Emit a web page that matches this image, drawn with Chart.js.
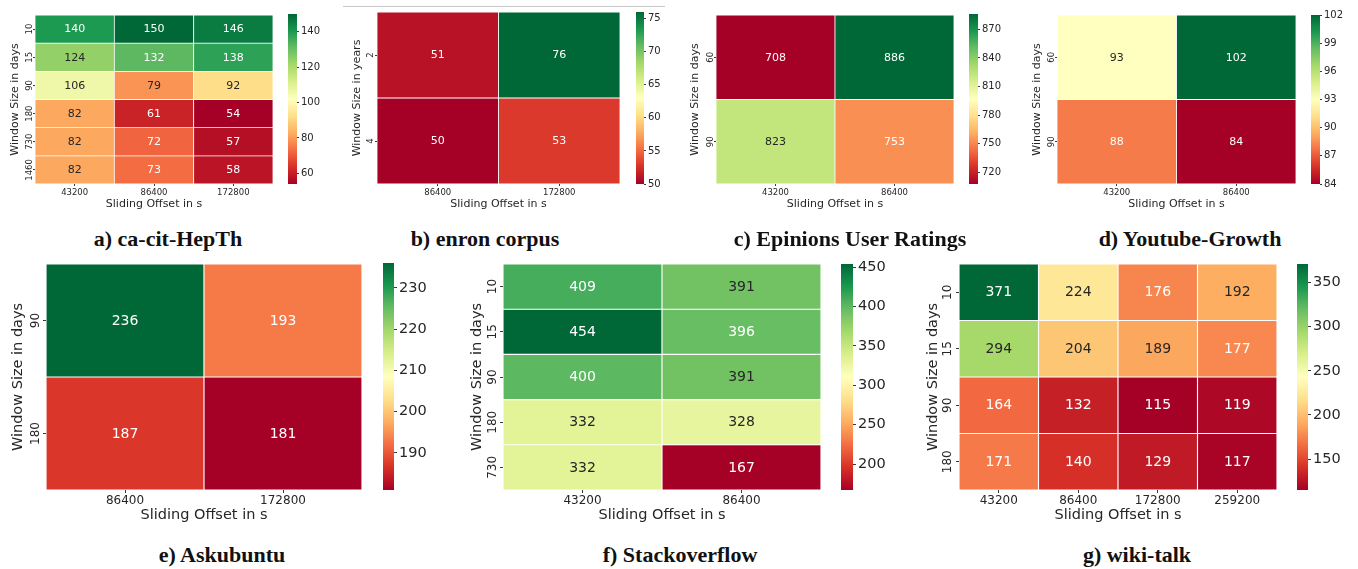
<!DOCTYPE html>
<html>
<head>
<meta charset="utf-8">
<title>Sliding window heatmaps</title>
<script src="https://cdn.jsdelivr.net/npm/chart.js@4/dist/chart.umd.min.js"></script>
<style>
  html, body { margin: 0; padding: 0; background: #fff; }
  body { position: relative; width: 1358px; height: 569px; overflow: hidden; }
  canvas { position: absolute; }
  .caption { position: absolute; transform: translate(-50%, -50%); white-space: nowrap;
             font-family: "Liberation Serif", "DejaVu Serif", serif; font-weight: bold; font-size: 22px; color: #111; }
  .rule { position: absolute; height: 1px; background: #c8c8c8; }
</style>
</head>
<body>
<script>
// ---- a) ca-cit-HepTh ----
const hepthOffsets = ['43200', '86400', '172800'];
const hepthWindows = ['10', '15', '90', '180', '730', '1460'];
const hepthValues = [
  [140, 150, 146],
  [124, 132, 138],
  [106, 79, 92],
  [82, 61, 54],
  [82, 72, 57],
  [82, 73, 58]
];
const hepthBarTicks = [60, 80, 100, 120, 140];

// ---- b) enron corpus ----
const enronOffsets = ['86400', '172800'];
const enronWindows = ['2', '4'];
const enronValues = [
  [51, 76],
  [50, 53]
];
const enronBarTicks = [50, 55, 60, 65, 70, 75];

// ---- c) Epinions User Ratings ----
const epinionsOffsets = ['43200', '86400'];
const epinionsWindows = ['60', '90'];
const epinionsValues = [
  [708, 886],
  [823, 753]
];
const epinionsBarTicks = [720, 750, 780, 810, 840, 870];

// ---- d) Youtube-Growth ----
const youtubeOffsets = ['43200', '86400'];
const youtubeWindows = ['60', '90'];
const youtubeValues = [
  [93, 102],
  [88, 84]
];
const youtubeBarTicks = [84, 87, 90, 93, 96, 99, 102];

// ---- e) Askubuntu ----
const askubuntuOffsets = ['86400', '172800'];
const askubuntuWindows = ['90', '180'];
const askubuntuValues = [
  [236, 193],
  [187, 181]
];
const askubuntuBarTicks = [190, 200, 210, 220, 230];

// ---- f) Stackoverflow ----
const stackoverflowOffsets = ['43200', '86400'];
const stackoverflowWindows = ['10', '15', '90', '180', '730'];
const stackoverflowValues = [
  [409, 391],
  [454, 396],
  [400, 391],
  [332, 328],
  [332, 167]
];
const stackoverflowBarTicks = [200, 250, 300, 350, 400, 450];

// ---- g) wiki-talk ----
const wikiOffsets = ['43200', '86400', '172800', '259200'];
const wikiWindows = ['10', '15', '90', '180'];
const wikiValues = [
  [371, 224, 176, 192],
  [294, 204, 189, 177],
  [164, 132, 115, 119],
  [171, 140, 129, 117]
];
const wikiBarTicks = [150, 200, 250, 300, 350];

const xAxisTitle = 'Sliding Offset in s';

// RdYlGn diverging palette (ColorBrewer, 11 anchors)
const RDYLGN = [
  [165, 0, 38], [215, 48, 39], [244, 109, 67], [253, 174, 97], [254, 224, 139],
  [255, 255, 191], [217, 239, 139], [166, 217, 106], [102, 189, 99], [26, 152, 80], [0, 104, 55]
];
function rdylgn(t) {
  t = Math.min(1, Math.max(0, t));
  const s = t * 10;
  const i = Math.min(9, Math.floor(s));
  const f = s - i;
  const a = RDYLGN[i], b = RDYLGN[i + 1];
  return [0, 1, 2].map(k => a[k] + (b[k] - a[k]) * f);
}
const rgbCss = c => `rgb(${c.map(v => Math.round(v)).join(',')})`;
function luminance(c) {
  const lin = c.map(v => { v /= 255; return v <= 0.03928 ? v / 12.92 : Math.pow((v + 0.055) / 1.055, 2.4); });
  return 0.2126 * lin[0] + 0.7152 * lin[1] + 0.0722 * lin[2];
}

Chart.defaults.font.family = '"DejaVu Sans", sans-serif';
Chart.defaults.color = '#262626';
Chart.defaults.animation = false;

const TEXT = '#262626';
const TICKMARK = '#3a3a3a';

function addCanvas(left, top, width, height) {
  const c = document.createElement('canvas');
  c.width = width; c.height = height;
  c.style.left = left + 'px'; c.style.top = top + 'px';
  c.style.width = width + 'px'; c.style.height = height + 'px';
  document.body.appendChild(c);
  return c;
}

function heatmap(p) {
  const { heat, big } = p;
  const fTick = big ? 12 : 8.5, fTitle = big ? 14.5 : 11, fCell = big ? 14 : 11;
  const tl = big ? 3 : 2;
  const lh = fTitle * 1.2;
  const L = Math.floor(p.yTitleX - lh / 2) - 2;
  const T = heat.y0 - 6;
  const R = heat.x1 + 4;
  const B = Math.ceil(p.xTitleY + lh / 2) + 2;
  const canvas = addCanvas(L, T, R - L, B - T);

  const flat = p.values.flat();
  const vmin = Math.min(...flat), vmax = Math.max(...flat);
  const colorOf = v => rdylgn((v - vmin) / (vmax - vmin));

  const datasets = p.windows.map((w, i) => ({
    label: w,
    data: p.offsets.map(() => 1),
    backgroundColor: p.values[i].map(v => rgbCss(colorOf(v))),
    borderColor: '#ffffff',
    borderWidth: big ? 0.9 : 0.75,
    borderSkipped: false,
    barPercentage: 1,
    categoryPercentage: 1
  }));

  const cellLabels = {
    id: 'cellLabels',
    afterDatasetsDraw(chart) {
      const ctx = chart.ctx;
      ctx.save();
      ctx.font = `${fCell}px "DejaVu Sans"`;
      ctx.textAlign = 'center';
      ctx.textBaseline = 'middle';
      chart.data.datasets.forEach((ds, i) => {
        chart.getDatasetMeta(i).data.forEach((bar, j) => {
          const { x, y, base } = bar.getProps(['x', 'y', 'base'], true);
          const v = p.values[i][j];
          ctx.fillStyle = luminance(colorOf(v)) > 0.408 ? TEXT : '#ffffff';
          ctx.fillText(String(v), x, (y + base) / 2 + 0.5);
        });
      });
      // row labels, rotated like the axis title
      const ys = chart.scales.y;
      ctx.font = `${fTick}px "DejaVu Sans"`;
      ctx.fillStyle = TEXT;
      p.windows.forEach((w, i) => {
        ctx.save();
        ctx.translate(chart.chartArea.left - p.yTickOff, ys.getPixelForValue(i + 0.5));
        ctx.rotate(-Math.PI / 2);
        ctx.fillText(w, 0, 0);
        ctx.restore();
      });
      ctx.restore();
    }
  };

  new Chart(canvas, {
    type: 'bar',
    data: { labels: p.offsets, datasets },
    options: {
      responsive: false,
      devicePixelRatio: 1,
      layout: { padding: { top: 6, right: 4, left: 0, bottom: 0 } },
      plugins: { legend: { display: false }, tooltip: { enabled: false } },
      scales: {
        x: {
          type: 'category',
          stacked: true,
          offset: true,
          grid: { display: true, offset: false, drawOnChartArea: false, drawTicks: true, tickLength: tl, color: TICKMARK, lineWidth: 1 },
          border: { display: false },
          ticks: { font: { size: fTick }, color: TEXT, padding: big ? 1 : 2, maxRotation: 0, autoSkip: false },
          title: { display: true, text: xAxisTitle, color: TEXT, font: { size: fTitle },
                   padding: { top: 0, bottom: B - (p.xTitleY + lh / 2) } },
          afterFit: s => { s.height = B - heat.y1; }
        },
        y: {
          type: 'linear',
          stacked: true,
          reverse: true,
          min: 0,
          max: p.windows.length,
          afterBuildTicks: s => { s.ticks = p.windows.map((_, i) => ({ value: i + 0.5 })); },
          grid: { display: true, drawOnChartArea: false, drawTicks: true, tickLength: tl, color: TICKMARK, lineWidth: 1 },
          border: { display: false },
          ticks: { display: false },
          title: { display: true, text: p.yTitle, color: TEXT, font: { size: fTitle },
                   padding: { top: p.yTitleX - lh / 2 - L, bottom: 0 } },
          afterFit: s => { s.width = heat.x0 - L; }
        }
      }
    },
    plugins: [cellLabels]
  });

  colorbar(p, vmin, vmax);
}

function colorbar(p, vmin, vmax) {
  const { bar, big } = p;
  const pad = 11;
  const bw = bar.x1 - bar.x0;
  const W = bw + 44;
  const canvas = addCanvas(bar.x0, bar.y0 - pad, W, bar.y1 - bar.y0 + 2 * pad);
  new Chart(canvas, {
    type: 'bar',
    data: {
      labels: [''],
      datasets: [{
        data: [[vmin, vmax]],
        barPercentage: 1,
        categoryPercentage: 1,
        borderWidth: 0,
        backgroundColor: ctx => {
          const chart = ctx.chart;
          const ys = chart.scales.y;
          if (!ys || !chart.chartArea) return '#ccc';
          const g = chart.ctx.createLinearGradient(0, ys.getPixelForValue(vmin), 0, ys.getPixelForValue(vmax));
          RDYLGN.forEach((c, k) => g.addColorStop(k / 10, rgbCss(c)));
          return g;
        }
      }]
    },
    options: {
      responsive: false,
      devicePixelRatio: 1,
      layout: { padding: { top: pad, bottom: pad, left: 0, right: 0 } },
      plugins: { legend: { display: false }, tooltip: { enabled: false } },
      scales: {
        x: { display: false },
        y: {
          position: 'right',
          min: vmin,
          max: vmax,
          afterBuildTicks: s => { s.ticks = p.barTicks.map(v => ({ value: v })); },
          grid: { display: true, drawOnChartArea: false, drawTicks: true, tickLength: big ? 3 : 2, color: TICKMARK, lineWidth: 1 },
          border: { display: false },
          ticks: { font: { size: big ? 14.5 : 10 }, color: TEXT, padding: 2 },
          afterFit: s => { s.width = W - bw; }
        }
      }
    }
  });
}

function caption(text, x, y) {
  const d = document.createElement('div');
  d.className = 'caption';
  d.textContent = text;
  d.style.left = x + 'px';
  d.style.top = y + 'px';
  document.body.appendChild(d);
}

const panels = [
  { caption: 'a) ca-cit-HepTh', offsets: hepthOffsets, windows: hepthWindows, values: hepthValues, barTicks: hepthBarTicks,
    yTitle: 'Window Size in days', big: false,
    heat: { x0: 35, y0: 15, x1: 273, y1: 184 }, bar: { x0: 288, y0: 14, x1: 297, y1: 184 },
    yTitleX: 15, xTitleY: 204, yTickOff: 5, capX: 168, capY: 239 },
  { caption: 'b) enron corpus', offsets: enronOffsets, windows: enronWindows, values: enronValues, barTicks: enronBarTicks,
    yTitle: 'Window Size in years', big: false,
    heat: { x0: 377, y0: 12, x1: 620, y1: 184 }, bar: { x0: 636, y0: 12, x1: 644, y1: 184 },
    yTitleX: 357, xTitleY: 204, yTickOff: 6, capX: 485, capY: 239 },
  { caption: 'c) Epinions User Ratings', offsets: epinionsOffsets, windows: epinionsWindows, values: epinionsValues, barTicks: epinionsBarTicks,
    yTitle: 'Window Size in days', big: false,
    heat: { x0: 716, y0: 15, x1: 954, y1: 184 }, bar: { x0: 969, y0: 14, x1: 978, y1: 184 },
    yTitleX: 695, xTitleY: 204, yTickOff: 5, capX: 850, capY: 239 },
  { caption: 'd) Youtube-Growth', offsets: youtubeOffsets, windows: youtubeWindows, values: youtubeValues, barTicks: youtubeBarTicks,
    yTitle: 'Window Size in days', big: false,
    heat: { x0: 1057, y0: 15, x1: 1296, y1: 184 }, bar: { x0: 1311, y0: 15, x1: 1320, y1: 184 },
    yTitleX: 1037, xTitleY: 204, yTickOff: 5, capX: 1190, capY: 239 },
  { caption: 'e) Askubuntu', offsets: askubuntuOffsets, windows: askubuntuWindows, values: askubuntuValues, barTicks: askubuntuBarTicks,
    yTitle: 'Window Size in days', big: true,
    heat: { x0: 46, y0: 264, x1: 362, y1: 490 }, bar: { x0: 383, y0: 263, x1: 394, y1: 490 },
    yTitleX: 18, xTitleY: 515, yTickOff: 10.5, capX: 222, capY: 555 },
  { caption: 'f) Stackoverflow', offsets: stackoverflowOffsets, windows: stackoverflowWindows, values: stackoverflowValues, barTicks: stackoverflowBarTicks,
    yTitle: 'Window Size in days', big: true,
    heat: { x0: 503, y0: 264, x1: 821, y1: 490 }, bar: { x0: 841, y0: 264, x1: 853, y1: 490 },
    yTitleX: 477, xTitleY: 515, yTickOff: 10, capX: 680, capY: 555 },
  { caption: 'g) wiki-talk', offsets: wikiOffsets, windows: wikiWindows, values: wikiValues, barTicks: wikiBarTicks,
    yTitle: 'Window Size in days', big: true,
    heat: { x0: 959, y0: 264, x1: 1277, y1: 490 }, bar: { x0: 1297, y0: 264, x1: 1308, y1: 490 },
    yTitleX: 933, xTitleY: 515, yTickOff: 11, capX: 1137, capY: 555 }
];

// thin rule above the enron panel
const rule = document.createElement('div');
rule.className = 'rule';
rule.style.left = '343px'; rule.style.top = '6px'; rule.style.width = '322px';
document.body.appendChild(rule);

panels.forEach(p => {
  heatmap(p);
  caption(p.caption, p.capX, p.capY);
});
</script>
</body>
</html>
